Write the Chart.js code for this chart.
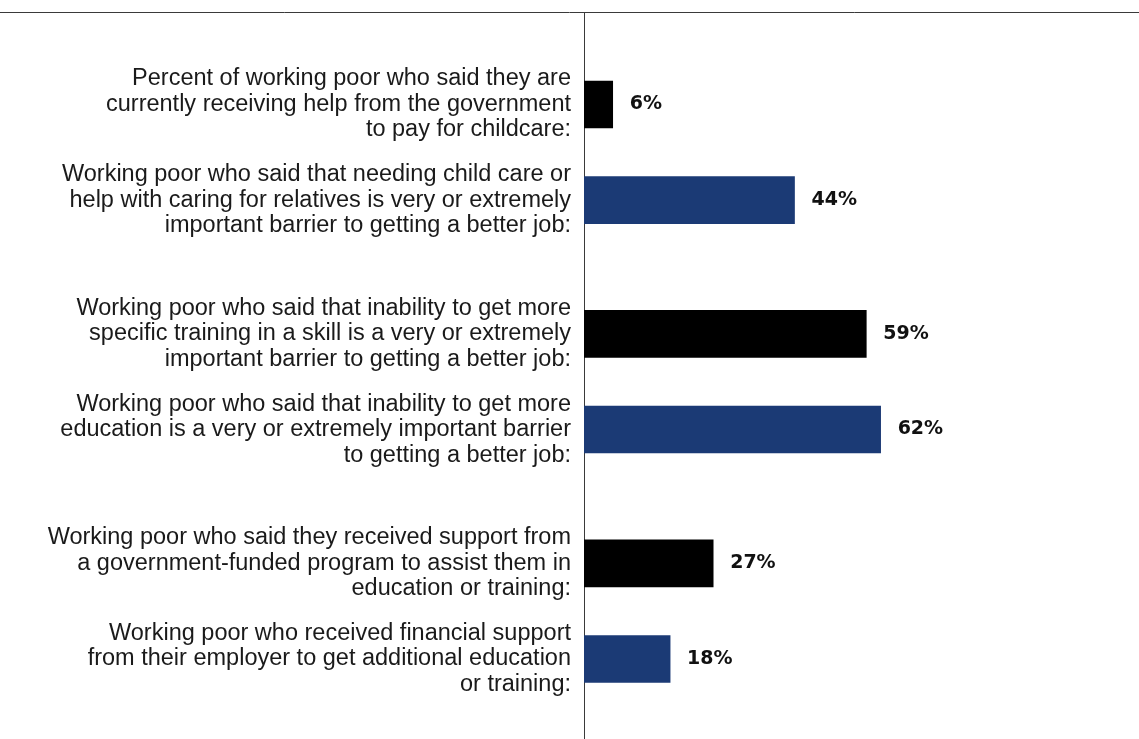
<!DOCTYPE html>
<html>
<head>
<meta charset="utf-8">
<script src="https://cdn.jsdelivr.net/npm/chart.js"></script>
<style>
  html, body { margin:0; padding:0; background:#fff; }
  #wrap { width:1139px; height:739px; position:relative; }
</style>
</head>
<body>
<div id="wrap"><canvas id="chart"></canvas></div>
<script>
// survey items, top to bottom
const labels = [
  ['Percent of working poor who said they are', 'currently receiving help from the government', 'to pay for childcare:'],
  ['Working poor who said that needing child care or', 'help with caring for relatives is very or extremely', 'important barrier to getting a better job:'],
  ['Working poor who said that inability to get more', 'specific training in a skill is a very or extremely', 'important barrier to getting a better job:'],
  ['Working poor who said that inability to get more', 'education is a very or extremely important barrier', 'to getting a better job:'],
  ['Working poor who said they received support from', 'a government-funded program to assist them in', 'education or training:'],
  ['Working poor who received financial support', 'from their employer to get additional education', 'or training:']
];
const values = [6, 44, 59, 62, 27, 18];
const groups = [0, 0, 1, 1, 2, 2];
const colors = ['#000000', '#1b3a75', '#000000', '#1b3a75', '#000000', '#1b3a75'];

// extra space between groups, in bar slots
const GROUP_GAP = 0.4;
const slots = values.map((v, i) => i + groups[i] * GROUP_GAP);

// full-width rule along the top of the plot
const topRule = {
  id: 'topRule',
  afterDraw(chart) {
    const c = chart.ctx, y = chart.chartArea.top + 0.5;
    c.save();
    c.strokeStyle = '#3a3a3a';
    c.lineWidth = 1;
    c.beginPath();
    c.moveTo(0, y);
    c.lineTo(chart.width, y);
    c.stroke();
    c.restore();
  }
};

// percentage labels to the right of each bar
const valueLabels = {
  id: 'valueLabels',
  afterDatasetsDraw(chart) {
    const c = chart.ctx;
    const meta = chart.getDatasetMeta(0);
    c.save();
    c.font = 'bold 19px "DejaVu Sans"';
    c.fillStyle = '#111';
    c.textAlign = 'left';
    c.textBaseline = 'middle';
    meta.data.forEach((bar, i) => {
      c.fillText(values[i] + '%', bar.x + 17, bar.y);
    });
    c.restore();
  }
};

new Chart(document.getElementById('chart'), {
  type: 'bar',
  data: {
    datasets: [{
      data: values.map((v, i) => ({ x: v, y: slots[i] })),
      backgroundColor: colors,
      barThickness: 47,
      borderWidth: 0
    }]
  },
  options: {
    indexAxis: 'y',
    responsive: true,
    maintainAspectRatio: false,
    animation: false,
    layout: { padding: { top: 12, right: 0, bottom: 0, left: 0 } },
    plugins: { legend: { display: false }, tooltip: { enabled: false } },
    scales: {
      x: {
        type: 'linear',
        min: 0,
        max: 116,
        display: false
      },
      y: {
        type: 'linear',
        reverse: true,
        offset: false,
        min: -0.9676,
        max: 6.637,
        afterBuildTicks(scale) {
          scale.ticks = slots.map(v => ({ value: v }));
        },
        afterFit(scale) {
          scale.width = 584;
          // labels sit well inside the plot, no end padding needed
          scale.paddingTop = 0;
          scale.paddingBottom = 0;
        },
        grid: { display: false, drawTicks: false },
        border: { display: true, color: '#3a3a3a', width: 1 },
        ticks: {
          autoSkip: false,
          padding: 13,
          color: '#1a1a1a',
          font: { family: '"Liberation Sans", Arial, sans-serif', size: 23.5, lineHeight: 1.085 },
          callback: (value, index) => labels[index]
        }
      }
    }
  },
  plugins: [topRule, valueLabels]
});
</script>
</body>
</html>
